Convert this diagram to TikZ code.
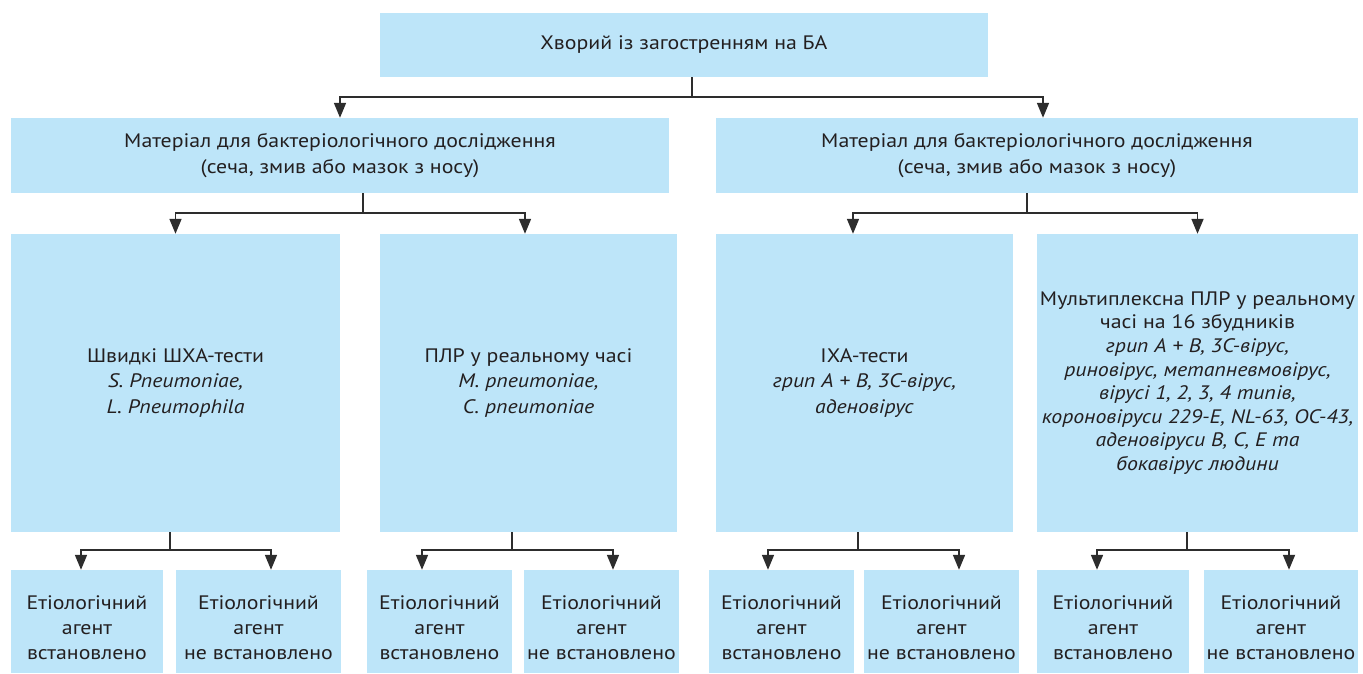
\documentclass[tikz,border=0pt]{standalone}
\usepackage{fontspec}
\setmainfont{PT Sans}[FakeStretch=1.12]
\usetikzlibrary{arrows.meta,calc}
\definecolor{boxfill}{RGB}{189,229,249}
\definecolor{txt}{RGB}{35,31,32}
\definecolor{ln}{RGB}{45,45,45}
\tikzset{
  box/.style={fill=boxfill, draw=none, inner sep=0pt, align=center, text=txt,
    font=\fontsize{19.5}{25.2}\selectfont},
  conn/.style={draw=ln, line width=1.7pt, -{Triangle[length=15pt,width=12pt]}},
  bar/.style={draw=ln, line width=1.7pt}
}
\newcommand{\lowtext}{\rule{0pt}{26pt}}
\begin{document}
\begin{tikzpicture}[x=1pt,y=-1pt]
\useasboundingbox (0,0) rectangle (1363,673);
% top
\node[box, minimum width=608pt, minimum height=64pt] (top) at (684,45) {Хворий із загостренням на БА};
% middle
\node[box, minimum width=658pt, minimum height=75pt] (ml) at (340,155.5) {Матеріал для бактеріологічного дослідження\\(сеча, змив або мазок з носу)};
\node[box, minimum width=642pt, minimum height=75pt] (mr) at (1037,155.5) {Матеріал для бактеріологічного дослідження\\(сеча, змив або мазок з носу)};
% large
\node[box, minimum width=329pt, minimum height=298pt] (b1) at (175.5,383) {Швидкі ШХА-тести\\\textit{S. Pneumoniae,}\\\textit{L. Pneumophila}};
\node[box, minimum width=297pt, minimum height=298pt] (b2) at (528.5,383) {ПЛР у реальному часі\\\textit{M. pneumoniae,}\\\textit{C. pneumoniae}};
\node[box, minimum width=297pt, minimum height=298pt] (b3) at (864.5,383) {ІХА-тести\\\textit{грип А + В, 3С-вірус,}\\\textit{аденовірус}};
\node[box, minimum width=321pt, minimum height=298pt, font=\fontsize{19.5}{23.6}\selectfont] (b4) at (1197.5,383) {Мультиплексна ПЛР у реальному\\часі на 16 збудників\\\textit{грип А + В, 3С-вірус,}\\\textit{риновірус, метапневмовірус,}\\\textit{вірусі 1, 2, 3, 4 типів,}\\\textit{короновіруси 229-E, NL-63, OC-43,}\\\textit{аденовіруси В, С, Е та}\\\textit{бокавірус людини}};
% bottom
\node[box, minimum width=152pt, minimum height=103pt] (e1) at (87,621.5) {\lowtext Етіологічний\\агент\\встановлено};
\node[box, minimum width=165pt, minimum height=103pt] (e2) at (258.5,621.5) {\lowtext Етіологічний\\агент\\не встановлено};
\node[box, minimum width=145pt, minimum height=103pt] (e3) at (439.5,621.5) {\lowtext Етіологічний\\агент\\встановлено};
\node[box, minimum width=155pt, minimum height=103pt] (e4) at (601.5,621.5) {\lowtext Етіологічний\\агент\\не встановлено};
\node[box, minimum width=145pt, minimum height=103pt] (e5) at (781.5,621.5) {\lowtext Етіологічний\\агент\\встановлено};
\node[box, minimum width=155pt, minimum height=103pt] (e6) at (941.5,621.5) {\lowtext Етіологічний\\агент\\не встановлено};
\node[box, minimum width=152pt, minimum height=103pt] (e7) at (1113,621.5) {\lowtext Етіологічний\\агент\\встановлено};
\node[box, minimum width=154pt, minimum height=103pt] (e8) at (1281,621.5) {\lowtext Етіологічний\\агент\\не встановлено};
% connectors top
\draw[bar] ($(top.south)+(8,0)$) -- ++(0,20) coordinate (t1);
\draw[conn] (t1) -| (ml.north);
\draw[conn] (t1) -| ($(mr.north)+(6,0)$);
% mid-left
\draw[bar] ($(ml.south)+(23,0)$) -- ++(0,20) coordinate (m1);
\draw[conn] (m1) -| (b1.north);
\draw[conn] (m1) -| ($(b2.north)+(-3.5,0)$);
% mid-right
\draw[bar] ($(mr.south)+(-10,0)$) -- ++(0,20) coordinate (m2);
\draw[conn] (m2) -| ($(b3.north)+(-11.5,0)$);
\draw[conn] (m2) -| (b4.north);
% bottom groups
\draw[bar] ($(b1.south)+(-5.5,0)$) -- ++(0,18) coordinate (g1);
\draw[conn] (g1) -| ($(e1.north)+(-6,0)$);
\draw[conn] (g1) -| ($(e2.north)+(12.5,0)$);
\draw[bar] ($(b2.south)+(-16.5,0)$) -- ++(0,18) coordinate (g2);
\draw[conn] (g2) -| ($(e3.north)+(-17.5,0)$);
\draw[conn] (g2) -| ($(e4.north)+(11.5,0)$);
\draw[bar] ($(b3.south)+(-6.5,0)$) -- ++(0,18) coordinate (g3);
\draw[conn] (g3) -| ($(e5.north)+(-13.5,0)$);
\draw[conn] (g3) -| ($(e6.north)+(17.5,0)$);
\draw[bar] ($(b4.south)+(-10.5,0)$) -- ++(0,18) coordinate (g4);
\draw[conn] (g4) -| ($(e7.north)+(-16,0)$);
\draw[conn] (g4) -| ($(e8.north)+(8,0)$);
\end{tikzpicture}
\end{document}
